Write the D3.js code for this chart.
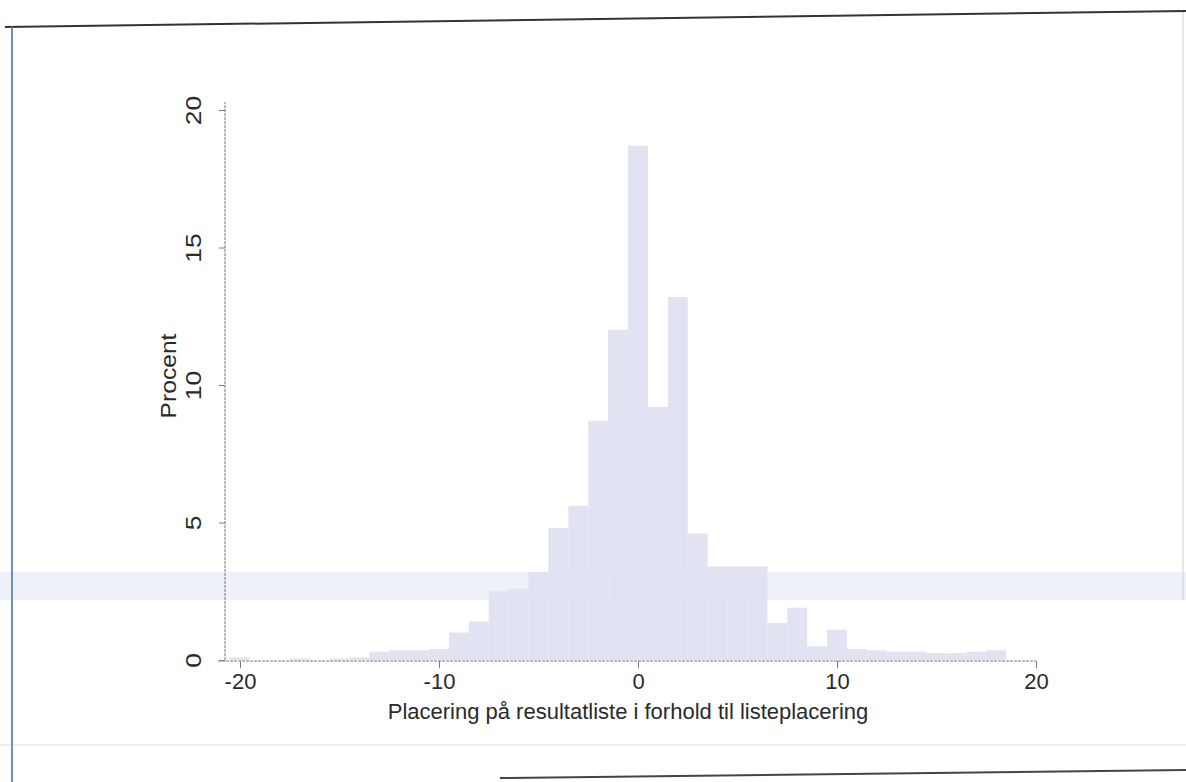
<!DOCTYPE html>
<html lang="da">
<head>
<meta charset="UTF-8">
<title>Placering på resultatliste</title>
<script src="https://d3js.org/d3.v7.min.js"></script>
<style>
  body { margin: 0; background: #fff; }
  svg { display: block; font-family: "Liberation Sans", Arial, sans-serif; }
</style>
</head>
<body>
<svg id="chart" width="1186" height="782"></svg>
<script>
// bin centres (discrete, width 1) and percent per bin
const bins = [-20,-19,-18,-17,-16,-15,-14,-13,-12,-11,-10,-9,-8,-7,-6,-5,-4,-3,-2,-1,
              0,1,2,3,4,5,6,7,8,9,10,11,12,13,14,15,16,17,18];
const procent = [0.1,0,0,0.05,0,0.05,0.1,0.3,0.35,0.35,0.4,1.0,1.4,2.5,2.6,3.2,4.8,5.6,8.7,12.0,
                 18.7,9.2,13.2,4.6,3.4,3.4,3.4,1.35,1.9,0.5,1.1,0.4,0.35,0.3,0.3,0.25,0.25,0.3,0.35];
const xTicks = [-20, -10, 0, 10, 20];
const yTicks = [0, 5, 10, 15, 20];

const svg = d3.select("#chart");

// scan artefacts: page edge and a faint scanner band
svg.append("rect").attr("x", 0).attr("y", 572).attr("width", 1186).attr("height", 28)
   .attr("fill", "#eef1f8");
svg.append("line").attr("x1", 0).attr("x2", 1186).attr("y1", 745).attr("y2", 745)
   .attr("stroke", "#f0f0f0").attr("stroke-width", 2);
svg.append("line").attr("x1", 5).attr("y1", 27).attr("x2", 1186).attr("y2", 11)
   .attr("stroke", "#333").attr("stroke-width", 2);
svg.append("line").attr("x1", 12).attr("y1", 27).attr("x2", 12).attr("y2", 782)
   .attr("stroke", "#6f93b8").attr("stroke-width", 2);
svg.append("line").attr("x1", 1183).attr("y1", 12).attr("x2", 1183).attr("y2", 600)
   .attr("stroke", "#ccc").attr("stroke-width", 1);
svg.append("line").attr("x1", 500).attr("y1", 778).attr("x2", 1186).attr("y2", 770)
   .attr("stroke", "#444").attr("stroke-width", 2);

const x = d3.scaleLinear().domain([-20, 20]).range([240, 1036]);
const y = d3.scaleLinear().domain([0, 20]).range([660, 110]);

// bars
svg.append("g").selectAll("rect")
  .data(bins.map((b, i) => ({ b, v: procent[i] })))
  .join("rect")
    .attr("x", d => x(d.b - 0.5))
    .attr("width", d => x(d.b + 0.5) - x(d.b - 0.5))
    .attr("y", d => y(d.v))
    .attr("height", d => y(0) - y(d.v))
    .attr("fill", "#e1e3f3");

// y axis
const yAxis = svg.append("g")
  .attr("transform", "translate(225,0)")
  .call(d3.axisLeft(y).tickValues(yTicks).tickSize(6).tickPadding(0).tickFormat(d => String(d)));
yAxis.select(".domain").attr("stroke", "#777").attr("stroke-dasharray", "3,1")
  .attr("d", `M0,${y(0)}V${y(20) - 8}`);
yAxis.selectAll(".tick line").attr("stroke", "#777");
yAxis.selectAll(".tick text")
  .attr("transform", "rotate(-90) scale(1.2,1)")
  .attr("x", 0).attr("y", -32)
  .attr("dy", "0.35em")
  .attr("text-anchor", "middle")
  .attr("font-size", 22)
  .attr("fill", "#2a2a2a");

// x axis
const xAxis = svg.append("g")
  .attr("transform", `translate(0,${y(0) + 1})`)
  .call(d3.axisBottom(x).tickValues(xTicks).tickSize(7).tickPadding(5).tickFormat(d => String(d)));
xAxis.select(".domain").attr("stroke", "#777").attr("stroke-dasharray", "3,1")
  .attr("d", `M218,0H${x(20)}`);
xAxis.selectAll(".tick line").attr("stroke", "#777");
xAxis.selectAll(".tick text").attr("font-size", 22).attr("fill", "#2a2a2a");

// axis titles
svg.append("text")
  .attr("transform", "translate(176,376) rotate(-90) scale(1.12,1)")
  .attr("text-anchor", "middle")
  .attr("font-size", 22)
  .attr("fill", "#2a2a2a")
  .text("Procent");

svg.append("text")
  .attr("x", 628).attr("y", 719)
  .attr("text-anchor", "middle")
  .attr("font-size", 22)
  .attr("fill", "#2a2a2a")
  .text("Placering på resultatliste i forhold til listeplacering");
</script>
</body>
</html>
